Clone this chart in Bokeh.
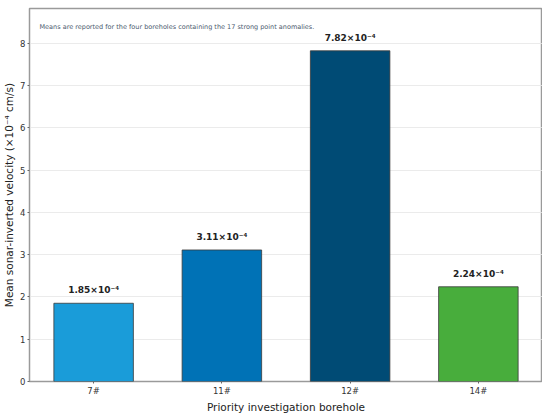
from bokeh.plotting import figure
from bokeh.models import ColumnDataSource, FixedTicker, Label, Range1d
from bokeh.embed import file_html
from bokeh.resources import INLINE
from bokeh.core.properties import value

boreholes = ["7#", "11#", "12#", "14#"]
velocity = [1.85, 3.11, 7.82, 2.24]
bar_colors = ["#1a9cd9", "#0072b6", "#004b75", "#48ad3c"]
labels = ["%.2f×10⁻⁴" % v for v in velocity]
y_ticks = [0, 1, 2, 3, 4, 5, 6, 7, 8]
note = "Means are reported for the four boreholes containing the 17 strong point anomalies."

src = ColumnDataSource(dict(x=boreholes, top=velocity, color=bar_colors, label=labels))

p = figure(x_range=boreholes, y_range=Range1d(0, 8.82), frame_width=513, frame_height=373,
           output_backend="svg", toolbar_location=None,
           min_border_left=0, min_border_right=0, min_border_top=8, min_border_bottom=0)
p.x_range.range_padding = 0.0

p.vbar(x="x", top="top", width=0.62, fill_color="color", line_color="#3a3a3a",
       line_width=0.8, source=src)
p.text(x="x", y="top", text="label", source=src, text_align="center",
       text_baseline="bottom", y_offset=-8, text_font_size="9px",
       text_font_style="bold", text_color="#222222", text_font=value("DejaVu Sans"))

p.add_layout(Label(x=10, y=355, x_units="screen", y_units="screen", text=note,
                   text_font_size="6.5px", text_color="#4a5a6e",
                   text_baseline="middle", text_font="DejaVu Sans"))

p.yaxis.ticker = FixedTicker(ticks=y_ticks)
p.yaxis.axis_label = "Mean sonar-inverted velocity (×10⁻⁴ cm/s)"
p.xaxis.axis_label = "Priority investigation borehole"
for ax in (p.xaxis, p.yaxis):
    ax.axis_label_text_font = "DejaVu Sans"
    ax.axis_label_text_font_size = "10.5px"
    ax.axis_label_text_font_style = "normal"
    ax.axis_label_text_color = "#222222"
    ax.major_label_text_font = "DejaVu Sans"
    ax.major_label_text_font_size = "8.5px"
    ax.major_label_text_color = "#333333"
    ax.axis_line_color = None
    ax.major_tick_line_color = "#666666"
    ax.major_tick_in = 0
    ax.major_tick_out = 2
    ax.minor_tick_line_color = None
    ax.major_label_standoff = 2
    ax.axis_label_standoff = 2

p.xgrid.grid_line_color = None
p.ygrid.grid_line_color = "#e6e6e6"
p.ygrid.grid_line_width = 0.8
p.outline_line_color = "#9a9a9a"
p.outline_line_width = 1.5
p.background_fill_color = "white"
p.border_fill_color = "white"

open("out.html", "w").write(file_html(p, INLINE))
